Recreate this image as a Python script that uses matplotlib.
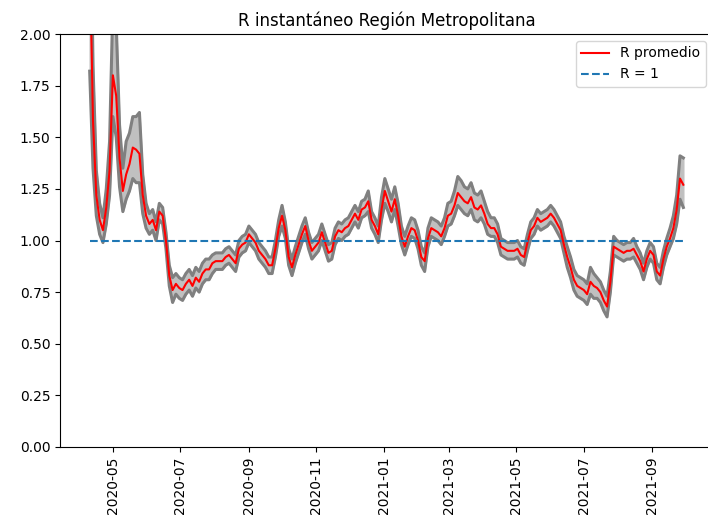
import numpy as np
import pandas as pd
import matplotlib
matplotlib.use('Agg')
import matplotlib.pyplot as plt
import matplotlib.dates as mdates

# R promedio cada 3 días desde 2020-04-10
fecha_inicio = "2020-04-10"
paso = "3D"

r_mean = [
    2.40, 1.58, 1.22, 1.10, 1.05, 1.16, 1.34, 1.80, 1.70, 1.40,
    1.24, 1.32, 1.37, 1.45, 1.44, 1.42, 1.22, 1.12, 1.08, 1.10,
    1.05, 1.14, 1.12, 1.00, 0.83, 0.76, 0.79, 0.77, 0.76, 0.79,
    0.81, 0.78, 0.82, 0.80, 0.84, 0.86, 0.86, 0.89, 0.90, 0.90,
    0.90, 0.92, 0.93, 0.91, 0.89, 0.96, 0.98, 0.99, 1.03, 1.01,
    0.99, 0.95, 0.93, 0.91, 0.88, 0.88, 0.96, 1.06, 1.12, 1.05,
    0.92, 0.87, 0.93, 0.98, 1.03, 1.07, 1.00, 0.95, 0.97, 0.99,
    1.04, 0.99, 0.94, 0.95, 1.02, 1.05, 1.04, 1.06, 1.07, 1.10,
    1.13, 1.10, 1.15, 1.16, 1.19, 1.10, 1.07, 1.03, 1.15, 1.24,
    1.19, 1.14, 1.20, 1.12, 1.02, 0.97, 1.02, 1.06, 1.05, 1.00,
    0.92, 0.90, 1.01, 1.06, 1.05, 1.04, 1.02, 1.06, 1.12, 1.13,
    1.17, 1.23, 1.21, 1.19, 1.18, 1.21, 1.16, 1.15, 1.17, 1.13,
    1.08, 1.06, 1.06, 1.03, 0.97, 0.96, 0.95, 0.95, 0.95, 0.96,
    0.93, 0.92, 0.99, 1.05, 1.07, 1.11, 1.09, 1.10, 1.11, 1.13,
    1.11, 1.08, 1.05, 0.98, 0.92, 0.87, 0.81, 0.78, 0.77, 0.76,
    0.74, 0.80, 0.78, 0.77, 0.75, 0.71, 0.68, 0.80, 0.97, 0.96,
    0.95, 0.94, 0.95, 0.95, 0.96, 0.93, 0.90, 0.85, 0.91, 0.95,
    0.93, 0.85, 0.83, 0.91, 0.97, 1.01, 1.06, 1.15, 1.30, 1.27,
]

r_low = [
    1.82, 1.35, 1.12, 1.03, 0.99, 1.08, 1.22, 1.60, 1.50, 1.26,
    1.14, 1.20, 1.24, 1.30, 1.28, 1.28, 1.13, 1.06, 1.03, 1.05,
    1.00, 1.10, 1.08, 0.96, 0.78, 0.70, 0.74, 0.72, 0.71, 0.74,
    0.76, 0.73, 0.77, 0.75, 0.79, 0.81, 0.81, 0.84, 0.86, 0.86,
    0.86, 0.88, 0.89, 0.87, 0.85, 0.92, 0.94, 0.95, 0.99, 0.97,
    0.95, 0.91, 0.89, 0.87, 0.84, 0.84, 0.92, 1.02, 1.07, 1.01,
    0.88, 0.83, 0.89, 0.94, 0.99, 1.03, 0.96, 0.91, 0.93, 0.95,
    1.00, 0.95, 0.90, 0.91, 0.98, 1.01, 1.00, 1.02, 1.03, 1.06,
    1.09, 1.06, 1.11, 1.12, 1.14, 1.06, 1.03, 0.99, 1.10, 1.18,
    1.14, 1.09, 1.15, 1.07, 0.98, 0.93, 0.98, 1.02, 1.01, 0.96,
    0.88, 0.85, 0.97, 1.02, 1.01, 1.00, 0.98, 1.02, 1.07, 1.08,
    1.12, 1.17, 1.15, 1.13, 1.12, 1.15, 1.10, 1.09, 1.11, 1.08,
    1.03, 1.02, 1.02, 0.99, 0.93, 0.92, 0.91, 0.91, 0.91, 0.92,
    0.89, 0.88, 0.95, 1.01, 1.03, 1.07, 1.05, 1.06, 1.07, 1.09,
    1.07, 1.04, 1.01, 0.94, 0.87, 0.82, 0.76, 0.73, 0.72, 0.71,
    0.69, 0.74, 0.72, 0.72, 0.70, 0.66, 0.63, 0.75, 0.93, 0.92,
    0.91, 0.90, 0.91, 0.91, 0.92, 0.89, 0.86, 0.81, 0.87, 0.91,
    0.89, 0.81, 0.79, 0.87, 0.93, 0.97, 1.01, 1.08, 1.20, 1.16,
]

r_high = [
    3.00, 1.85, 1.34, 1.18, 1.11, 1.25, 1.48, 2.15, 2.05, 1.56,
    1.35, 1.48, 1.52, 1.60, 1.60, 1.62, 1.32, 1.18, 1.13, 1.15,
    1.09, 1.18, 1.16, 1.04, 0.88, 0.82, 0.84, 0.82, 0.81, 0.84,
    0.86, 0.83, 0.87, 0.85, 0.89, 0.91, 0.91, 0.93, 0.94, 0.94,
    0.94, 0.96, 0.97, 0.95, 0.93, 1.00, 1.02, 1.03, 1.07, 1.05,
    1.03, 0.99, 0.97, 0.95, 0.92, 0.92, 1.00, 1.10, 1.17, 1.09,
    0.96, 0.91, 0.97, 1.02, 1.07, 1.11, 1.04, 0.99, 1.01, 1.03,
    1.08, 1.03, 0.98, 0.99, 1.06, 1.09, 1.08, 1.10, 1.11, 1.14,
    1.17, 1.14, 1.19, 1.20, 1.24, 1.14, 1.11, 1.07, 1.21, 1.30,
    1.25, 1.20, 1.26, 1.18, 1.07, 1.02, 1.07, 1.11, 1.10, 1.05,
    0.97, 0.94, 1.06, 1.11, 1.10, 1.09, 1.07, 1.11, 1.18, 1.19,
    1.24, 1.31, 1.29, 1.26, 1.25, 1.28, 1.23, 1.22, 1.24, 1.19,
    1.14, 1.11, 1.11, 1.08, 1.01, 1.00, 0.99, 0.99, 0.99, 1.00,
    0.97, 0.96, 1.03, 1.09, 1.11, 1.15, 1.13, 1.14, 1.15, 1.17,
    1.15, 1.12, 1.09, 1.02, 0.97, 0.92, 0.86, 0.83, 0.82, 0.81,
    0.79, 0.87, 0.84, 0.82, 0.80, 0.76, 0.73, 0.85, 1.02, 1.00,
    0.99, 0.98, 0.99, 0.99, 1.01, 0.97, 0.94, 0.89, 0.95, 0.99,
    0.97, 0.89, 0.87, 0.95, 1.01, 1.06, 1.12, 1.22, 1.41, 1.40,
]

fechas = pd.date_range(fecha_inicio, periods=len(r_mean), freq=paso)

fig = plt.figure(figsize=(7.08, 5.29), dpi=100)
ax = fig.add_axes([60 / 708, 82 / 529, 653 / 708, 413 / 529])

ax.fill_between(fechas, r_low, r_high, color='silver')
ax.plot(fechas, r_low, color='gray', linewidth=2.2)
ax.plot(fechas, r_high, color='gray', linewidth=2.2)
ax.plot(fechas, r_mean, color='red', linewidth=1.5, label='R promedio')
ax.hlines(1, fechas[0], fechas[-1], colors='C0', linestyles='--', label='R = 1')

ax.set_ylim(0, 2)
ax.xaxis.set_major_locator(mdates.MonthLocator(bymonth=[1, 3, 5, 7, 9, 11]))
ax.xaxis.set_major_formatter(mdates.DateFormatter('%Y-%m'))
plt.setp(ax.get_xticklabels(), rotation=90)
ax.spines['right'].set_visible(False)  # en la original queda fuera del recorte
ax.set_title('R instantáneo Región Metropolitana')
ax.legend(loc='upper right')

fig.savefig('out.png', dpi=100)
